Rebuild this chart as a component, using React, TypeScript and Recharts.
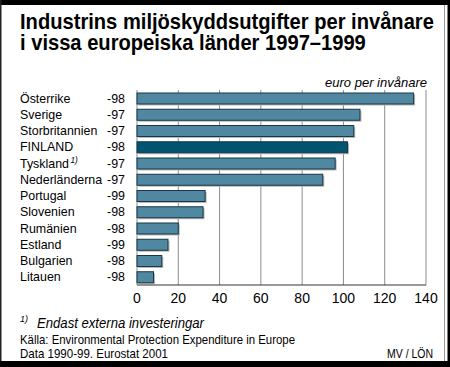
import React from "react";
import { BarChart, Bar, XAxis, YAxis, CartesianGrid, Cell } from "recharts";

const countries = [
  "Österrike",
  "Sverige",
  "Storbritannien",
  "FINLAND",
  "Tyskland",
  "Nederländerna",
  "Portugal",
  "Slovenien",
  "Rumänien",
  "Estland",
  "Bulgarien",
  "Litauen",
];
const years = ["-98", "-97", "-97", "-98", "-97", "-97", "-99", "-98", "-98", "-99", "-98", "-98"];
const values = [134, 108, 105, 102, 96, 90, 33, 32, 20, 15, 12, 8];
const xTicks = [0, 20, 40, 60, 80, 100, 120, 140];

const data = countries.map((name, i) => ({ name, year: years[i], value: values[i] }));

const FONT = "'Liberation Sans', Arial, sans-serif";
const BAR = "#4f88a0";
const FIN = "#005470";
const SX = 0.92; // narrow the type a bit, the original uses a condensed face

function CountryTick(props: any) {
  const { x, y, payload, index } = props;
  const name = payload.value as string;
  return (
    <g fontFamily={FONT} fontSize={13.5} fill="#000">
      <text transform={`translate(20,${y + 4.5}) scale(${SX},1)`} textAnchor="start">
        {name}
        {name === "Tyskland" && (
          <tspan fontSize={9} fontStyle="italic" dy={-4.5} dx={1.5}>
            1)
          </tspan>
        )}
      </text>
      <text transform={`translate(${x - 1},${y + 4.5}) scale(${SX},1)`} textAnchor="end">
        {years[index]}
      </text>
    </g>
  );
}

function ShadowBar(props: any) {
  const { x, y, width, height, fill } = props;
  if (!width) return null;
  return (
    <g>
      <rect x={x + 1.5} y={y + 1.5} width={width} height={height} fill="#b8b8b8" />
      <rect x={x} y={y} width={width} height={height} fill={fill} stroke="#1b3644" strokeWidth={1} />
    </g>
  );
}

export default function App() {
  return (
    <div style={{ position: "absolute", left: 0, top: 0, width: 450, height: 367, background: "#fff" }}>
      <BarChart
        width={450}
        height={367}
        data={data}
        layout="vertical"
        margin={{ top: 90, right: 24, bottom: 62, left: 0 }}
        barSize={11}
      >
        <CartesianGrid horizontal={false} stroke="#8c8c8c" strokeWidth={1} />
        <XAxis
          type="number"
          domain={[0, 140]}
          ticks={xTicks}
          interval={0}
          height={20}
          tickLine={false}
          axisLine={{ stroke: "#333", strokeWidth: 1 }}
          tick={{ fontFamily: FONT, fontSize: 14, fill: "#000" }}
        />
        <YAxis
          type="category"
          dataKey="name"
          width={137}
          axisLine={false}
          tickLine={false}
          tickMargin={5}
          interval={0}
          tick={<CountryTick />}
        />
        <Bar dataKey="value" isAnimationActive={false} shape={<ShadowBar />}>
          {data.map((d) => (
            <Cell key={d.name} fill={d.name === "FINLAND" ? FIN : BAR} />
          ))}
        </Bar>
      </BarChart>
      <svg
        width={450}
        height={367}
        style={{ position: "absolute", left: 0, top: 0, pointerEvents: "none" }}
        fontFamily={FONT}
      >
        <rect x={0} y={0} width={450} height={5} fill="#000" />
        <rect x={0} y={0} width={1.5} height={367} fill="#222" />
        <rect x={447.5} y={0} width={2.5} height={367} fill="#000" />
        <rect x={0} y={361} width={450} height={6} fill="#000" />
        <line x1={444.5} y1={5} x2={444.5} y2={361} stroke="#999" strokeWidth={1} />
        <text transform="translate(20,29) scale(0.895,1)" fontSize={22.5} fontWeight="bold">
          Industrins miljöskyddsutgifter per invånare
        </text>
        <text transform="translate(20,50) scale(0.895,1)" fontSize={22.5} fontWeight="bold">
          i vissa europeiska länder 1997–1999
        </text>
        <text x={325} y={87} fontSize={13.5} fontStyle="italic" textLength={102} lengthAdjust="spacingAndGlyphs">
          euro per invånare
        </text>
        <text x={20} y={322} fontSize={9} fontStyle="italic">
          1)
        </text>
        <text x={37} y={328} fontSize={15} fontStyle="italic" textLength={167} lengthAdjust="spacingAndGlyphs">
          Endast externa investeringar
        </text>
        <text x={20} y={344} fontSize={13} textLength={275} lengthAdjust="spacingAndGlyphs">
          Källa: Environmental Protection Expenditure in Europe
        </text>
        <text x={20} y={358} fontSize={13} textLength={148} lengthAdjust="spacingAndGlyphs">
          Data 1990-99. Eurostat 2001
        </text>
        <text x={387} y={358} fontSize={13} textLength={46} lengthAdjust="spacingAndGlyphs">
          MV / LÖN
        </text>
      </svg>
    </div>
  );
}
